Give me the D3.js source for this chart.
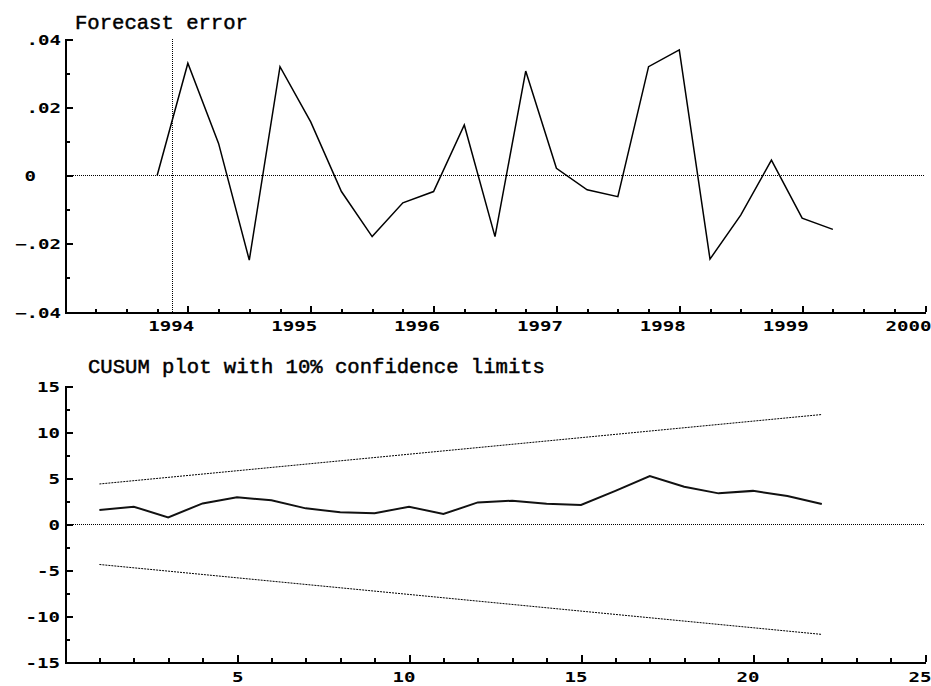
<!DOCTYPE html>
<html>
<head>
<meta charset="utf-8">
<script src="https://cdnjs.cloudflare.com/ajax/libs/d3/7.8.5/d3.min.js"></script>
<style>
  body { margin: 0; background: #fff; }
  svg { display: block; }
  .axis path, .axis line { stroke: #000; stroke-width: 2; shape-rendering: crispEdges; }
  .axis text { font-family: "DejaVu Sans Mono", monospace; font-weight: bold; font-size: 13.5px; fill: #000; }
  .title { font-family: "Liberation Mono", monospace; font-size: 21px; fill: #000; stroke: #000; stroke-width: 0.5; }
</style>
</head>
<body>
<div id="wrapper"></div>
<script>
// ---------- data

// forecast error, quarterly
const quarters = ["1993:4", "1994:1", "1994:2", "1994:3", "1994:4", "1995:1", "1995:2", "1995:3",
  "1995:4", "1996:1", "1996:2", "1996:3", "1996:4", "1997:1", "1997:2", "1997:3", "1997:4",
  "1998:1", "1998:2", "1998:3", "1998:4", "1999:1", "1999:2"]
const forecastError = [0, 0.0329, 0.0094, -0.0248, 0.0319, 0.0157, -0.0047, -0.0179,
  -0.0080, -0.0047, 0.0148, -0.0179, 0.0306, 0.0021, -0.0042, -0.0062, 0.0319,
  0.0368, -0.0245, -0.0116, 0.0045, -0.0125, -0.0158]
const forecastStart = 1993.875
const yearTicks = [1994, 1995, 1996, 1997, 1998, 1999, 2000]
const errorTicks = [0.04, 0.02, 0, -0.02, -0.04]
const errorMinor = [0.03, 0.01, -0.01, -0.03]

// cusum
const steps = [1, 2, 3, 4, 5, 6, 7, 8, 9, 10, 11, 12, 13, 14, 15, 16, 17, 18, 19, 20, 21, 22]
const cusum = [1.52, 1.88, 0.72, 2.24, 2.9, 2.57, 1.7, 1.27, 1.16, 1.88, 1.08, 2.35,
  2.53, 2.2, 2.06, 3.6, 5.2, 4.05, 3.33, 3.6, 3.04, 2.17]
const boundSteps = [1, 22]
const upperBound = [4.35, 11.9]
const lowerBound = [-4.4, -12.0]
const stepTicks = [5, 10, 15, 20, 25]
const stepMinor = [1, 2, 3, 4, 6, 7, 8, 9, 11, 12, 13, 14, 16, 17, 18, 19, 21, 22, 23, 24]
const cusumTicks = [15, 10, 5, 0, -5, -10, -15]
const cusumMinor = [12.5, 7.5, 2.5, -2.5, -7.5, -12.5]

// ---------- dimensions
const dimensions = {
  width: 931,
  height: 686,
  left: 65,
  right: 925,
  top1: 39, bottom1: 312,
  top2: 386, bottom2: 662
}

const svg = d3.select("#wrapper")
  .append("svg")
  .attr("width", dimensions.width)
  .attr("height", dimensions.height)

const charW = 11.5
const stretch = sel => sel
  .attr("textLength", function () { return this.textContent.length * charW })
  .attr("lengthAdjust", "spacingAndGlyphs")

const parseQuarter = s => {
  const [y, q] = s.split(":").map(Number)
  return y + (q - 1) / 4
}

// ---------- top panel: forecast error
const xTime = d3.scaleLinear()
  .domain([1993, 2000])
  .range([dimensions.left, dimensions.right])

const yErr = d3.scaleLinear()
  .domain([-0.04, 0.04])
  .range([dimensions.bottom1, dimensions.top1])

const topPanel = svg.append("g")

topPanel.append("text")
  .attr("class", "title")
  .attr("x", 75)
  .attr("y", 29)
  .text("Forecast error")
  .attr("textLength", 14 * 12.35)
  .attr("lengthAdjust", "spacingAndGlyphs")

// minor ticks
topPanel.append("g")
  .attr("class", "axis")
  .attr("transform", `translate(0,${dimensions.bottom1})`)
  .call(d3.axisBottom(xTime).tickValues(d3.range(1993.25, 2000, 0.25)).tickSize(-3).tickSizeOuter(0).tickFormat(""))
  .select(".domain").remove()

topPanel.append("g")
  .attr("class", "axis")
  .attr("transform", `translate(${dimensions.left},0)`)
  .call(d3.axisLeft(yErr).tickValues(errorMinor).tickSize(-5).tickSizeOuter(0).tickFormat(""))
  .select(".domain").remove()

// major ticks
const xAxisTop = topPanel.append("g")
  .attr("class", "axis")
  .attr("transform", `translate(0,${dimensions.bottom1})`)
  .call(d3.axisBottom(xTime).tickValues(yearTicks).tickSize(-6).tickSizeOuter(0).tickFormat(d3.format("d")))

xAxisTop.selectAll(".tick text")
  .attr("y", 19).attr("dy", 0).attr("x", 6)
  .attr("text-anchor", "end")
  .call(stretch)

const yAxisTop = topPanel.append("g")
  .attr("class", "axis")
  .attr("transform", `translate(${dimensions.left},0)`)
  .call(d3.axisLeft(yErr).tickValues(errorTicks).tickSize(-8).tickSizeOuter(0).tickPadding(4)
    .tickFormat(d => d === 0 ? "0" : d3.format(".2f")(d).replace("0.", ".")))

yAxisTop.selectAll(".tick text")
  .attr("dy", 5)
  .attr("x", d => d === 0 ? -29 : -4)
  .call(stretch)

// reference lines
topPanel.append("line")
  .attr("x1", dimensions.left).attr("x2", dimensions.right)
  .attr("y1", yErr(0)).attr("y2", yErr(0))
  .attr("stroke", "#000").attr("stroke-dasharray", "1,1")
  .attr("shape-rendering", "crispEdges")

topPanel.append("line")
  .attr("x1", xTime(forecastStart)).attr("x2", xTime(forecastStart))
  .attr("y1", dimensions.top1).attr("y2", dimensions.bottom1)
  .attr("stroke", "#000").attr("stroke-dasharray", "1,1")
  .attr("shape-rendering", "crispEdges")

const errLine = d3.line()
  .x((d, i) => xTime(parseQuarter(quarters[i])))
  .y(d => yErr(d))

topPanel.append("path")
  .datum(forecastError)
  .attr("d", errLine)
  .attr("fill", "none")
  .attr("stroke", "#000")
  .attr("stroke-width", 1.5)

// ---------- bottom panel: cusum
const xStep = d3.scaleLinear()
  .domain([0, 25])
  .range([dimensions.left, dimensions.right])

const yCus = d3.scaleLinear()
  .domain([-15, 15])
  .range([dimensions.bottom2, dimensions.top2])

const bottomPanel = svg.append("g")

bottomPanel.append("text")
  .attr("class", "title")
  .attr("x", 88)
  .attr("y", 373)
  .text("CUSUM plot with 10% confidence limits")
  .attr("textLength", 37 * 12.35)
  .attr("lengthAdjust", "spacingAndGlyphs")

bottomPanel.append("g")
  .attr("class", "axis")
  .attr("transform", `translate(0,${dimensions.bottom2})`)
  .call(d3.axisBottom(xStep).tickValues(stepMinor).tickSize(-4).tickSizeOuter(0).tickFormat(""))
  .select(".domain").remove()

bottomPanel.append("g")
  .attr("class", "axis")
  .attr("transform", `translate(${dimensions.left},0)`)
  .call(d3.axisLeft(yCus).tickValues(cusumMinor).tickSize(-5).tickSizeOuter(0).tickFormat(""))
  .select(".domain").remove()

const xAxisBot = bottomPanel.append("g")
  .attr("class", "axis")
  .attr("transform", `translate(0,${dimensions.bottom2})`)
  .call(d3.axisBottom(xStep).tickValues(stepTicks).tickSize(-7).tickSizeOuter(0).tickFormat(d3.format("d")))

xAxisBot.selectAll(".tick text")
  .attr("y", 20).attr("dy", 0).attr("x", 6)
  .attr("text-anchor", "end")
  .call(stretch)

const yAxisBot = bottomPanel.append("g")
  .attr("class", "axis")
  .attr("transform", `translate(${dimensions.left},0)`)
  .call(d3.axisLeft(yCus).tickValues(cusumTicks).tickSize(-8).tickSizeOuter(0).tickPadding(5)
    .tickFormat(d3.format("d")))

yAxisBot.selectAll(".tick text")
  .attr("dy", 5)
  .text(d => d < 0 ? "-" + Math.abs(d) : d)
  .call(stretch)

bottomPanel.append("line")
  .attr("x1", dimensions.left).attr("x2", dimensions.right)
  .attr("y1", yCus(0)).attr("y2", yCus(0))
  .attr("stroke", "#000").attr("stroke-dasharray", "1,1")
  .attr("shape-rendering", "crispEdges")

const boundLine = d3.line()
  .x((d, i) => xStep(boundSteps[i]))
  .y(d => yCus(d))

bottomPanel.selectAll(".bound")
  .data([upperBound, lowerBound])
  .join("path")
  .attr("class", "bound")
  .attr("d", boundLine)
  .attr("fill", "none")
  .attr("stroke", "#000")
  .attr("stroke-width", 1)
  .attr("stroke-dasharray", "2,1")

const cusumLine = d3.line()
  .x((d, i) => xStep(steps[i]))
  .y(d => yCus(d))

bottomPanel.append("path")
  .datum(cusum)
  .attr("d", cusumLine)
  .attr("fill", "none")
  .attr("stroke", "#111")
  .attr("stroke-width", 2)
</script>
</body>
</html>
